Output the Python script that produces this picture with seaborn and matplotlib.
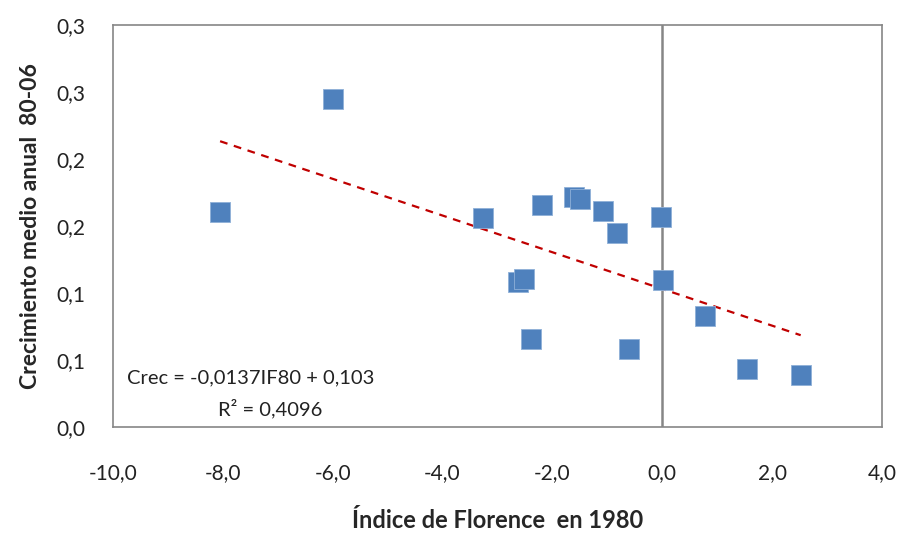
import numpy as np
import pandas as pd
import matplotlib
matplotlib.use("Agg")
import matplotlib.pyplot as plt
import seaborn as sns

# valores
if80 = [-8.05, -5.99, -3.26, -2.62, -2.51, -2.39, -2.19, -1.60, -1.50, -1.07,
        -0.82, -0.60, -0.02, 0.01, 0.78, 1.55, 2.52]
crec = [0.1603, 0.2446, 0.1562, 0.1082, 0.1104, 0.0657, 0.1656, 0.1716, 0.1701, 0.1612,
        0.1448, 0.0582, 0.1567, 0.1097, 0.0828, 0.0433, 0.0388]

pendiente = -0.0137
ordenada = 0.103
r2_txt = "R² = 0,4096"
eq_txt = "Crec = -0,0137IF80 + 0,103"

x_ticks = [-10, -8, -6, -4, -2, 0, 2, 4]
x_labels = ["-10,0", "-8,0", "-6,0", "-4,0", "-2,0", "0,0", "2,0", "4,0"]
y_ticks = [0.0, 0.05, 0.10, 0.15, 0.20, 0.25, 0.30]
y_labels = ["0,0", "0,1", "0,1", "0,2", "0,2", "0,3", "0,3"]

df = pd.DataFrame({"IF80": if80, "Crec": crec})

sns.set_style("white")
plt.rcParams['font.family'] = ['Lato', 'DejaVu Sans']

fig = plt.figure(figsize=(9.01, 5.33), dpi=100)
ax = fig.add_axes([0.1254, 0.199, 0.8535, 0.754])

# linea de tendencia
xs = np.array([df["IF80"].min(), df["IF80"].max()])
sns.lineplot(x=xs, y=ordenada + pendiente * xs, ax=ax, color="#C00000",
             linestyle=(0, (3.5, 3)), linewidth=1.6, zorder=2)

# eje vertical en x = 0
ax.axvline(0, color="#868686", linewidth=1.8, zorder=1)

sns.scatterplot(data=df, x="IF80", y="Crec", ax=ax, marker="s", s=200,
                color="#4F81BD", edgecolor="#8FB0D8", linewidth=0.6, zorder=3)

ax.set_xlim(-10, 4)
ax.set_ylim(0, 0.3)
ax.set_xticks(x_ticks)
ax.set_xticklabels(x_labels, fontsize=15, color="#222222")
ax.set_yticks(y_ticks)
ax.set_yticklabels(y_labels, fontsize=15, color="#222222")
ax.tick_params(axis="x", length=0, pad=26)
ax.tick_params(axis="y", length=0, pad=20)

for s in ax.spines.values():
    s.set_color("#868686")
    s.set_linewidth(1.2)

ax.set_xlabel("Índice de Florence  en 1980", fontsize=17, fontweight="bold", labelpad=19)
ax.set_ylabel("Crecimiento medio anual  80-06", fontsize=16.5, fontweight="bold", labelpad=11)

ax.text(0.0185, 0.122, eq_txt, transform=ax.transAxes, fontsize=14.5, color="#222222",
        ha="left", va="center")
ax.text(0.2045, 0.045, r2_txt, transform=ax.transAxes, fontsize=14.5, color="#222222",
        ha="center", va="center")

fig.savefig("out.png", dpi=100)
